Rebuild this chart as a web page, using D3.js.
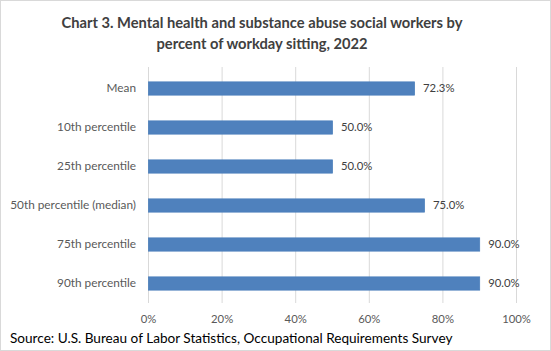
<!DOCTYPE html>
<html>
<head>
<meta charset="utf-8">
<script src="https://cdn.jsdelivr.net/npm/d3@7"></script>
<style>
  body { margin: 0; background: #fff; }
  svg { display: block; }
</style>
</head>
<body>
<div class="content"></div>
<script>
var categories = ['Mean', '10th percentile', '25th percentile', '50th percentile (median)', '75th percentile', '90th percentile'];
var values = [72.3, 50.0, 50.0, 75.0, 90.0, 90.0];
var ticks = [0, 20, 40, 60, 80, 100];
var titleLines = ['Chart 3. Mental health and substance abuse social workers by', 'percent of workday sitting, 2022'];
var source = 'Source: U.S. Bureau of Labor Statistics, Occupational Requirements Survey';

var chart = {
    width: 551,
    height: 351,
    left: 148,
    right: 516,
    top: 69,
    bottom: 303
};

var svg = d3.select('.content').append('svg')
    .attr('width', chart.width)
    .attr('height', chart.height)
    .style('font-family', 'Lato, "Open Sans", sans-serif');

svg.append('rect')
    .attr('x', 0.5).attr('y', 0.5)
    .attr('width', chart.width - 1).attr('height', chart.height - 1)
    .attr('fill', '#fff')
    .attr('stroke', '#d9d9d9');

svg.append('g').selectAll('text')
    .data(titleLines)
    .enter().append('text')
    .attr('x', 262)
    .attr('y', function(d, i) { return 28 + i * 21; })
    .attr('text-anchor', 'middle')
    .attr('font-size', '14.7px')
    .attr('font-weight', 'bold')
    .attr('fill', '#404040')
    .text(function(d) { return d; });

var x = d3.scaleLinear().domain([0, 100]).range([chart.left, chart.right]);
var y = d3.scaleBand().domain(categories).range([chart.top, chart.bottom]).paddingInner(0.66).paddingOuter(0.33);

// gridlines
svg.append('g').selectAll('line')
    .data(ticks)
    .enter().append('line')
    .attr('x1', function(d) { return x(d) + 0.5; })
    .attr('x2', function(d) { return x(d) + 0.5; })
    .attr('y1', chart.top - 2)
    .attr('y2', chart.bottom)
    .attr('stroke', '#d9d9d9')
    .attr('stroke-width', 1);

// x axis labels
var xAxis = d3.axisBottom(x).tickValues(ticks).tickSize(0).tickFormat(function(d) { return d + '%'; });
var gx = svg.append('g')
    .attr('transform', 'translate(0,' + (chart.bottom + 9) + ')')
    .call(xAxis);
gx.select('.domain').remove();
gx.selectAll('text')
    .attr('font-family', 'Lato, "Open Sans", sans-serif')
    .attr('font-size', '11.3px')
    .attr('fill', '#595959');

// y axis labels
var yAxis = d3.axisLeft(y).tickSize(0).tickPadding(12);
var gy = svg.append('g')
    .attr('transform', 'translate(' + chart.left + ',0)')
    .call(yAxis);
gy.select('.domain').remove();
gy.selectAll('text')
    .attr('font-family', 'Lato, "Open Sans", sans-serif')
    .attr('font-size', '11.8px')
    .attr('fill', '#595959');

// bars
svg.append('g').selectAll('rect')
    .data(values)
    .enter().append('rect')
    .attr('x', x(0) + 0.5)
    .attr('y', function(d, i) { return y(categories[i]); })
    .attr('width', function(d) { return x(d) - x(0); })
    .attr('height', y.bandwidth())
    .attr('fill', '#4f81bd')
    .attr('stroke', '#4a7ebb')
    .attr('stroke-width', 0.75);

// value labels
svg.append('g').selectAll('text')
    .data(values)
    .enter().append('text')
    .attr('x', function(d) { return x(d) + 9; })
    .attr('y', function(d, i) { return y(categories[i]) + y.bandwidth() / 2; })
    .attr('dy', '0.35em')
    .attr('font-size', '11.3px')
    .attr('fill', '#404040')
    .text(function(d) { return d.toFixed(1) + '%'; });

svg.append('text')
    .attr('x', 10)
    .attr('y', 343)
    .attr('font-size', '13.6px')
    .attr('fill', '#000')
    .text(source);
</script>
</body>
</html>
